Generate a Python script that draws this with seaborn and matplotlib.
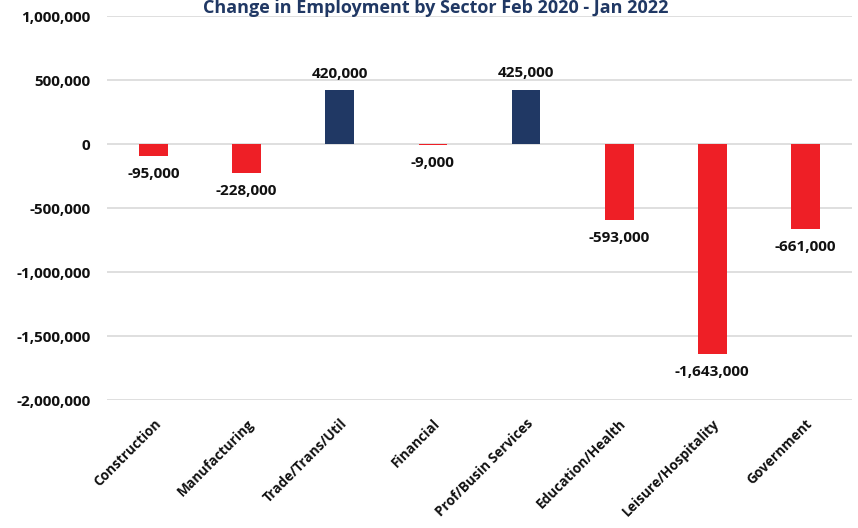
import matplotlib
matplotlib.use("Agg")
import matplotlib.pyplot as plt
from matplotlib.ticker import FuncFormatter
import seaborn as sns
import pandas as pd

sectors = ["Construction", "Manufacturing", "Trade/Trans/Util", "Financial",
           "Prof/Busin Services", "Education/Health", "Leisure/Hospitality",
           "Government"]
changes = [-95000, -228000, 420000, -9000, 425000, -593000, -1643000, -661000]
title = "Change in Employment by Sector Feb 2020 - Jan 2022"

RED = "#EE1F26"
NAVY = "#203864"
INK = "#111111"

sns.set_theme(style="white")
plt.rcParams["font.family"] = ["Open Sans", "DejaVu Sans"]

df = pd.DataFrame({"sector": sectors, "change": changes})
df["sign"] = ["gain" if v >= 0 else "loss" for v in changes]

fig = plt.figure(figsize=(8.58, 5.28), dpi=100)
ax = fig.add_axes([107 / 858, 1 - 400 / 528, (852 - 107) / 858, (400 - 16) / 528])

sns.barplot(data=df, x="sector", y="change", hue="sign",
            palette={"gain": NAVY, "loss": RED}, width=0.31,
            dodge=False, legend=False, ax=ax, saturation=1)

for patch in ax.patches:
    patch.set_edgecolor("none")

ax.set_xlim(-0.5, 7.5)
ax.set_ylim(-2000000, 1000000)
ax.set_yticks(range(-2000000, 1000001, 500000))
ax.yaxis.set_major_formatter(FuncFormatter(lambda v, _: f"{int(v):,}"))
ax.grid(axis="y", color="#D9D9D9", linewidth=1.2)
ax.set_axisbelow(True)
for s in ax.spines.values():
    s.set_visible(False)
ax.set_xlabel("")
ax.set_ylabel("")
ax.tick_params(axis="y", length=0, pad=12, labelsize=11)
ax.tick_params(axis="x", length=0, pad=12)
for lbl in ax.get_yticklabels():
    lbl.set_fontweight("bold")
    lbl.set_color(INK)
ax.set_xticks(range(len(sectors)))
ax.set_xticklabels(sectors, rotation=45, ha="right", rotation_mode="anchor",
                   fontsize=9.8, fontweight="bold", color=INK)

for i, v in enumerate(changes):
    if v >= 0:
        ax.annotate(f"{v:,}", (i, v), xytext=(0, 7), textcoords="offset points",
                    ha="center", va="bottom", fontsize=11, fontweight="bold",
                    color=INK)
    else:
        ax.annotate(f"{v:,}", (i, v), xytext=(0, -8), textcoords="offset points",
                    ha="center", va="top", fontsize=11, fontweight="bold",
                    color=INK)

fig.text(436 / 858, 1 - 13 / 528, title, ha="center", va="baseline",
         fontsize=13, fontweight="bold", color=NAVY)

fig.savefig("out.png", dpi=100)
